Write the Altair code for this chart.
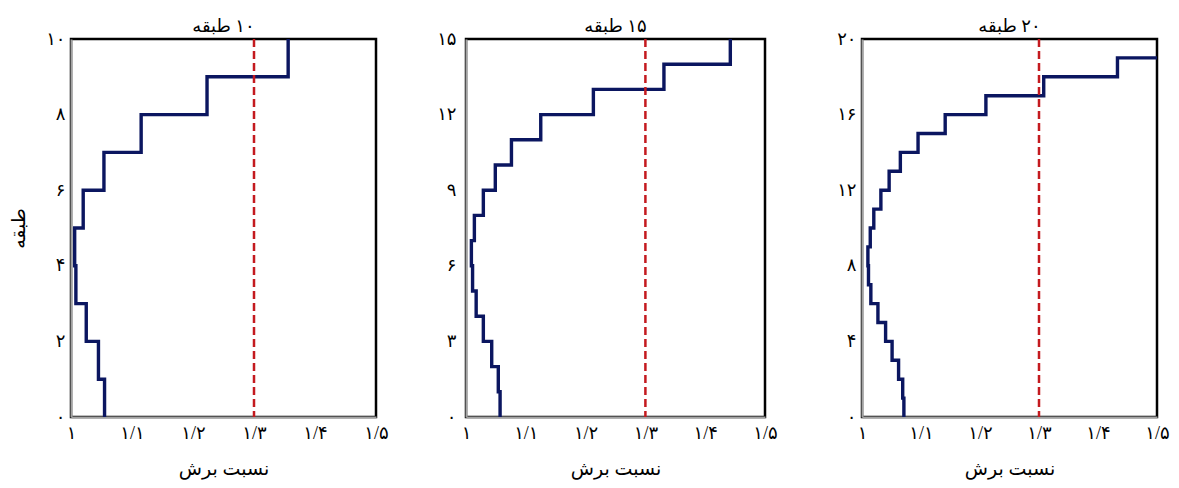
import altair as alt
import pandas as pd

# ---- data ----
floors_10 = [1.055, 1.045, 1.025, 1.008, 1.006, 1.020, 1.054, 1.115, 1.223, 1.356]
floors_15 = [1.057, 1.054, 1.043, 1.029, 1.017, 1.011, 1.009, 1.014, 1.029, 1.049,
             1.076, 1.125, 1.213, 1.331, 1.442]
floors_20 = [1.071, 1.069, 1.062, 1.051, 1.040, 1.027, 1.015, 1.011, 1.010, 1.014,
             1.020, 1.032, 1.046, 1.065, 1.095, 1.141, 1.210, 1.308, 1.433, 1.560]

titles = ["\u200f۱۰ طبقه", "\u200f۱۵ طبقه", "\u200f۲۰ طبقه"]
limit_ratio = 1.3

x_ticks = [1.0, 1.1, 1.2, 1.3, 1.4, 1.5]
x_tick_labels = ["۱", "۱/۱", "۱/۲", "۱/۳", "۱/۴", "۱/۵"]

y_ticks_10 = [0, 2, 4, 6, 8, 10]
y_labels_10 = ["۰", "۲", "۴", "۶", "۸", "۱۰"]
y_ticks_15 = [0, 3, 6, 9, 12, 15]
y_labels_15 = ["۰", "۳", "۶", "۹", "۱۲", "۱۵"]
y_ticks_20 = [0, 4, 8, 12, 16, 20]
y_labels_20 = ["۰", "۴", "۸", "۱۲", "۱۶", "۲۰"]

x_title = "نسبت برش"
y_title = "طبقه"

FONT = "Liberation Serif, DejaVu Sans"
NAVY = "#0b1660"
RED = "#c41a1f"
GRAY = "#a3a3a3"


def label_expr(ticks, labels, scale=1):
    expr = "''"
    for t, l in reversed(list(zip(ticks, labels))):
        expr = f"round(datum.value*{scale}) == {round(t*scale)} ? '{l}' : {expr}"
    return expr


def panel(values, yticks, ylabels, title, width, ytitle, ypad, extent):
    rows = []
    for i, v in enumerate(values, start=1):
        rows.append({"ratio": v, "floor": i - 1, "o": 2 * i - 2})
        rows.append({"ratio": v, "floor": i, "o": 2 * i - 1})
    df = pd.DataFrame(rows)
    n = len(values)
    xscale = alt.Scale(domain=[1.0, 1.5], nice=False, zero=False)
    yscale = alt.Scale(domain=[0, n], nice=False, zero=False)
    yaxis_kw = dict(values=yticks, labelExpr=label_expr(yticks, ylabels), labelPadding=ypad)
    if ytitle:
        yaxis_kw["title"] = ytitle
    else:
        yaxis_kw["title"] = None
    if extent:
        yaxis_kw["minExtent"] = extent
        yaxis_kw["maxExtent"] = extent
    line = alt.Chart(df).mark_line(color=NAVY, strokeWidth=3.4, clip=True).encode(
        x=alt.X("ratio:Q", scale=xscale,
                axis=alt.Axis(values=x_ticks, labelExpr=label_expr(x_ticks, x_tick_labels, 10),
                              title=x_title)),
        y=alt.Y("floor:Q", scale=yscale, axis=alt.Axis(**yaxis_kw)),
        order="o:Q",
    )
    rule = alt.Chart(pd.DataFrame({"ratio": [limit_ratio]})).mark_rule(
        color=RED, strokeWidth=2.5, strokeDash=[8, 4]
    ).encode(x=alt.X("ratio:Q", scale=xscale))
    return alt.layer(line, rule).properties(
        width=width, height=378, title=alt.TitleParams(title)
    )


p1 = panel(floors_10, y_ticks_10, y_labels_10, titles[0], 305, y_title, 6, None)
p2 = panel(floors_15, y_ticks_15, y_labels_15, titles[1], 299, None, 10, 30)
p3 = panel(floors_20, y_ticks_20, y_labels_20, titles[2], 295, None, 6, 37)

chart = alt.hconcat(p1, p2, p3, spacing=44).properties(
    padding={"left": 0, "top": 8, "right": 0, "bottom": 0}
).configure_view(
    stroke="black", strokeWidth=2.5
).configure_axis(
    domainColor=GRAY, domainWidth=2, ticks=False, grid=False,
    labelFont=FONT, labelFontSize=18, labelColor="black",
    labelFlush=False,
    titleFont=FONT, titleFontSize=19, titleFontWeight="normal", titleColor="black",
).configure_axisX(
    titlePadding=17, labelPadding=7
).configure_axisY(
    titlePadding=17
).configure_title(
    font=FONT, fontSize=18, fontWeight="normal", color="black", offset=-6
)

chart.save("out.html", embed_options={"renderer": "svg", "actions": False})
